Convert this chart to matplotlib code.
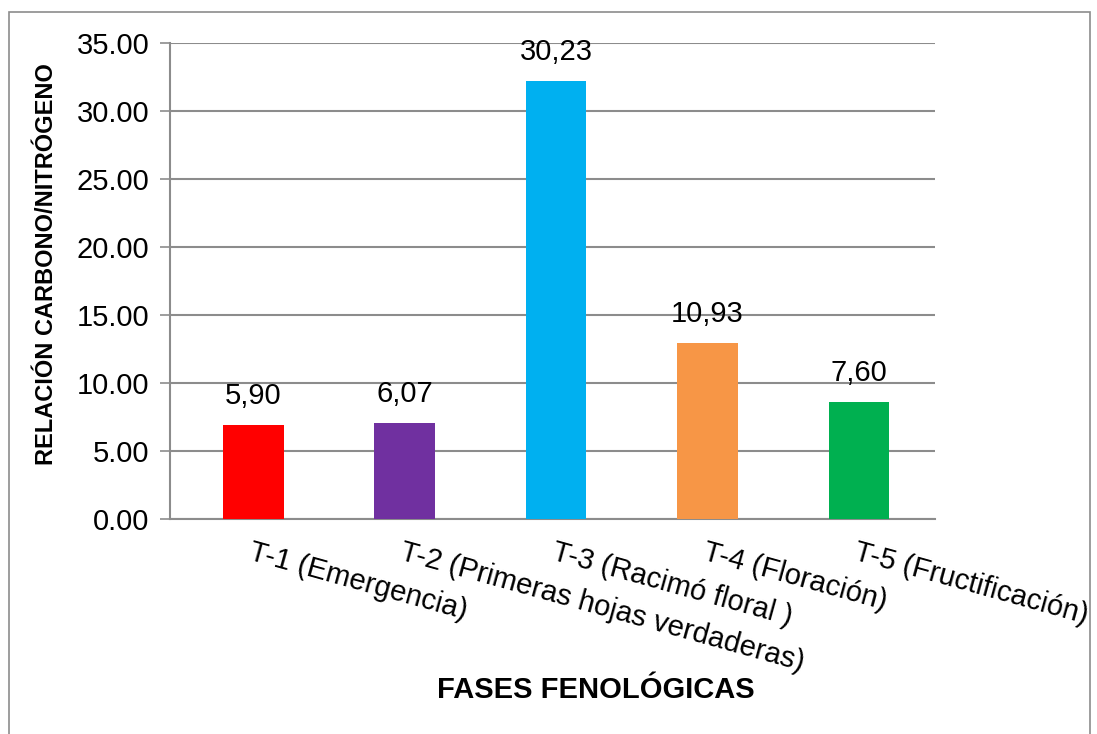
import matplotlib.pyplot as plt
from matplotlib.patches import Rectangle

plt.rcParams['font.family'] = ['Liberation Sans', 'DejaVu Sans']

# data
fases = ['T-1 (Emergencia)', 'T-2 (Primeras hojas verdaderas)', 'T-3 (Racimó floral )',
         'T-4 (Floración)', 'T-5 (Fructificación)']
alturas = [6.90, 7.07, 32.23, 12.93, 8.60]
etiquetas = ['5,90', '6,07', '30,23', '10,93', '7,60']
colores = ['#FF0000', '#7030A0', '#00B0F0', '#F79646', '#00B050']

fig = plt.figure(figsize = (10.97, 7.34), dpi = 100)
ax = fig.add_axes([0.155, 0.293, 0.697, 0.648])

# outer chart border
fig.patches.append(Rectangle((0.008, -0.05), 0.986, 1.034, transform = fig.transFigure,
                             fill = False, edgecolor = '#8c8c8c', linewidth = 1.2))

x = range(len(fases))
bars = ax.bar(x, alturas, width = 0.4, color = colores, zorder = 3)

for bar, lab in zip(bars, etiquetas):
    ax.annotate(lab, (bar.get_x() + bar.get_width() / 2, bar.get_height()),
                xytext = (0, 11), textcoords = 'offset points',
                ha = 'center', va = 'bottom', fontsize = 21)

ax.set_xlim(-0.55, 4.5)
ax.set_ylim(0, 35)
ax.set_yticks([0, 5, 10, 15, 20, 25, 30, 35])
ax.set_yticklabels([f'{v:.2f}' for v in [0, 5, 10, 15, 20, 25, 30, 35]], fontsize = 21)
ax.grid(axis = 'y', color = '#8c8c8c', linewidth = 1.5, zorder = 0)
ax.tick_params(axis = 'y', length = 7, width = 1.2, color = '#8c8c8c', pad = 8)
ax.set_xticks([])

for s in ['top', 'right']:
    ax.spines[s].set_visible(False)
for s in ['left', 'bottom']:
    ax.spines[s].set_color('#8c8c8c')
    ax.spines[s].set_linewidth(1.5)

# rotated category labels
for i, f in enumerate(fases):
    ax.text(i, -1.4, f, rotation = -15.5, rotation_mode = 'anchor',
            ha = 'left', va = 'top', fontsize = 21)

ax.set_ylabel('RELACIÓN CARBONO/NITRÓGENO', fontsize = 17, fontweight = 'bold')
ax.yaxis.set_label_coords(-0.146, 0.535)
fig.text(0.543, 0.06, 'FASES FENOLÓGICAS', ha = 'center', va = 'center',
         fontsize = 21, fontweight = 'bold')

plt.savefig('out.png', dpi = 100)
